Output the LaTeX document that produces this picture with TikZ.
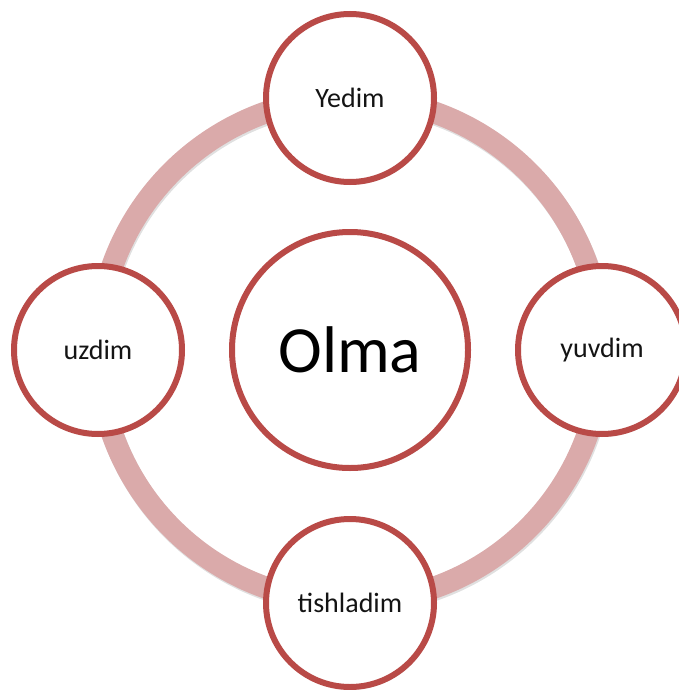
\documentclass[tikz,border=0pt]{standalone}
\usepackage{fontspec}
\setmainfont{Carlito}
\usetikzlibrary{shadows}
\definecolor{ringcol}{RGB}{218,170,170}
\definecolor{bordercol}{RGB}{185,74,71}
\definecolor{txtcol}{RGB}{20,20,20}
\tikzset{
  ringline/.style={draw=ringcol, line width=22pt},
  ringshadow/.style={draw=black!12, line width=22pt},
  satellite/.style={circle, draw=bordercol, line width=6pt, fill=white, minimum size=168pt, inner sep=0pt, text=txtcol, font=\fontsize{28}{32}\selectfont,
    drop shadow={shadow xshift=1.5pt, shadow yshift=-2.5pt, opacity=0.18, fill=black}},
  hub/.style={circle, draw=bordercol, line width=6pt, fill=white, minimum size=236pt, inner sep=0pt, text=black, font=\fontsize{66}{72}\selectfont,
    drop shadow={shadow xshift=1.5pt, shadow yshift=-2.5pt, opacity=0.18, fill=black}}
}
\begin{document}
\begin{tikzpicture}[x=1pt,y=-1pt]
\useasboundingbox (0,0) rectangle (679,690);
\coordinate (c) at (350,350);
\draw[ringshadow] ([xshift=1pt,yshift=-2pt]c) circle (252);
\draw[ringline] (c) circle (252);
\node[hub] (olma) at (c) {Olma};
\node[satellite] (yedim) at (350,98) {Yedim};
\node[satellite] (uzdim) at (98,350) {uzdim};
\node[satellite] (yuvdim) at (602,350) {yuvdim};
\node[satellite] (tish) at (350,603) {tishladim};
\end{tikzpicture}
\end{document}
